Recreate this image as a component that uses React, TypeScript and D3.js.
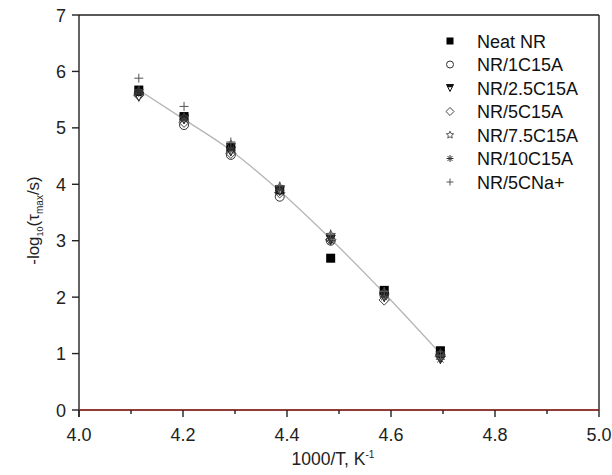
import React from "react";
import * as d3 from "d3";

const xVals = [4.115, 4.202, 4.292, 4.386, 4.484, 4.587, 4.695];
const neatNR = [5.67, 5.2, 4.65, 3.9, 2.69, 2.12, 1.05];
const nr1C15A = [5.6, 5.05, 4.52, 3.78, 3.0, 2.05, 0.97];
const nr25C15A = [5.55, 5.15, 4.58, 3.88, 3.02, 2.0, 0.9];
const nr5C15A = [5.58, 5.1, 4.55, 3.85, 3.02, 1.95, 0.95];
const nr75C15A = [5.65, 5.18, 4.7, 3.95, 3.1, 2.08, 1.0];
const nr10C15A = [5.63, 5.15, 4.6, 3.9, 3.0, 2.0, 0.9];
const nr5CNa = [5.88, 5.38, 4.75, 3.97, 3.12, 2.1, 0.97];
const fitLine = [5.67, 5.15, 4.6, 3.88, 3.03, 2.07, 1.0];

const seriesNames = ["Neat NR", "NR/1C15A", "NR/2.5C15A", "NR/5C15A", "NR/7.5C15A", "NR/10C15A", "NR/5CNa+"];
const seriesValues = [neatNR, nr1C15A, nr25C15A, nr5C15A, nr75C15A, nr10C15A, nr5CNa];
const seriesMarkers = ["square", "circle", "tridown", "diamond", "star", "asterisk", "plus"];

const xTicks = [4.0, 4.2, 4.4, 4.6, 4.8, 5.0];
const xMinor = [4.1, 4.3, 4.5, 4.7, 4.9];
const yTicks = [0, 1, 2, 3, 4, 5, 6, 7];

const W = 612, H = 475;
const L = 79, R = 599, T = 15, B = 410;
const FONT = "Liberation Sans, Arial, sans-serif";

function Marker({ type, x, y, s }: { type: string; x: number; y: number; s: number }) {
  const h = s / 2;
  const sw = 1;
  switch (type) {
    case "square":
      return <rect x={x - h} y={y - h} width={s} height={s} fill="#000" />;
    case "circle":
      return <circle cx={x} cy={y} r={h} fill="none" stroke="#333" strokeWidth={sw} />;
    case "tridown": {
      const p = `M${x - h},${y - h}L${x + h},${y - h}L${x},${y + h}Z`;
      const t = `M${x - h},${y - h}L${x + h},${y - h}L${x + h * 0.6},${y - h * 0.2}L${x - h * 0.6},${y - h * 0.2}Z`;
      return (
        <g>
          <path d={p} fill="#fff" stroke="#111" strokeWidth={sw} />
          <path d={t} fill="#111" />
        </g>
      );
    }
    case "diamond": {
      const d = h * 1.15;
      return <path d={`M${x},${y - d}L${x + d},${y}L${x},${y + d}L${x - d},${y}Z`} fill="none" stroke="#444" strokeWidth={sw} />;
    }
    case "star": {
      const pts: string[] = [];
      for (let i = 0; i < 10; i++) {
        const r = i % 2 === 0 ? h * 1.1 : h * 0.5;
        const a = -Math.PI / 2 + (i * Math.PI) / 5;
        pts.push(`${x + r * Math.cos(a)},${y + r * Math.sin(a)}`);
      }
      return <path d={`M${pts.join("L")}Z`} fill="none" stroke="#444" strokeWidth={0.9} />;
    }
    case "asterisk": {
      const segs: string[] = [];
      for (let i = 0; i < 4; i++) {
        const a = (i * Math.PI) / 4;
        segs.push(`M${x - h * Math.cos(a)},${y - h * Math.sin(a)}L${x + h * Math.cos(a)},${y + h * Math.sin(a)}`);
      }
      return <path d={segs.join("")} stroke="#333" strokeWidth={1} />;
    }
    case "plus":
    default:
      return <path d={`M${x - h},${y}L${x + h},${y}M${x},${y - h}L${x},${y + h}`} stroke="#555" strokeWidth={1} />;
  }
}

export default function App() {
  const xs = d3.scaleLinear().domain([4.0, 5.0]).range([L, R]);
  const ys = d3.scaleLinear().domain([0, 7]).range([B, T]);
  const line = d3
    .line<number>()
    .x((_, i) => xs(xVals[i]))
    .y((d) => ys(d))
    .curve(d3.curveMonotoneX);

  const legX = 450, legTextX = 477, legY0 = 41, legDy = 23.5;

  return (
    <svg width={W} height={H} style={{ position: "absolute", left: 0, top: 0, background: "#fff" }} fontFamily={FONT}>
      <rect width={W} height={H} fill="#fff" />
      {/* fit line */}
      <path d={line(fitLine) || ""} fill="none" stroke="#b5b5b5" strokeWidth={1.3} />
      {/* markers */}
      {seriesValues.map((vals, si) =>
        vals.map((v, i) => (
          <Marker key={`${si}-${i}`} type={seriesMarkers[si]} x={xs(xVals[i])} y={ys(v)} s={9} />
        ))
      )}
      {/* frame */}
      <line x1={L} y1={T} x2={R} y2={T} stroke="#222" strokeWidth={1.4} />
      <line x1={R} y1={T} x2={R} y2={B} stroke="#222" strokeWidth={1.4} />
      <line x1={L} y1={T} x2={L} y2={B + 7} stroke="#222" strokeWidth={1.4} />
      <line x1={L} y1={B} x2={R} y2={B} stroke="#222" strokeWidth={1.4} />
      <line x1={L} y1={ys(0)} x2={R} y2={ys(0)} stroke="#a8322e" strokeWidth={1.3} />
      {/* x ticks */}
      {xTicks.map((t) => (
        <g key={t}>
          <line x1={xs(t)} x2={xs(t)} y1={B} y2={B + 7} stroke="#222" strokeWidth={1.4} />
          <text x={xs(t)} y={B + 31} textAnchor="middle" fontSize={18} fill="#222">
            {t.toFixed(1)}
          </text>
        </g>
      ))}
      {xMinor.map((t) => (
        <line key={t} x1={xs(t)} x2={xs(t)} y1={B} y2={B + 4} stroke="#222" strokeWidth={1.4} />
      ))}
      {/* y ticks */}
      {yTicks.map((t) => (
        <g key={t}>
          <line x1={L - 7} x2={L} y1={ys(t)} y2={ys(t)} stroke="#222" strokeWidth={1.4} />
          <text x={L - 13} y={ys(t) + 6.5} textAnchor="end" fontSize={18} fill="#222">
            {t}
          </text>
        </g>
      ))}
      {/* x title */}
      <text x={(L + R) / 2 - 6} y={465} textAnchor="middle" fontSize={17.5} fill="#222">
        1000/T, K
        <tspan dy={-7} fontSize={10}>-1</tspan>
      </text>
      {/* y title */}
      <text transform={`translate(39,${(T + B) / 2 + 8}) rotate(-90)`} textAnchor="middle" fontSize={17} fill="#222">
        -log
        <tspan dy={4} fontSize={9}>10</tspan>
        <tspan dy={-4}>(τ</tspan>
        <tspan dy={4} fontSize={10}>max</tspan>
        <tspan dy={-4}>/s)</tspan>
      </text>
      {/* legend */}
      {seriesNames.map((n, i) => (
        <g key={n}>
          <Marker type={seriesMarkers[i]} x={legX} y={legY0 + i * legDy} s={7} />
          <text x={legTextX} y={legY0 + i * legDy + 6.5} fontSize={18} fill="#111">
            {n}
          </text>
        </g>
      ))}
    </svg>
  );
}
